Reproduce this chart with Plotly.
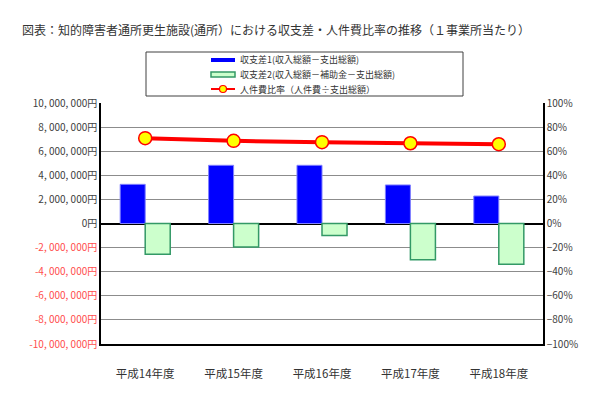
import plotly.graph_objects as go

# データ（1事業所当たり）
categories = ["平成14年度", "平成15年度", "平成16年度", "平成17年度", "平成18年度"]
balance1 = [3250000, 4830000, 4830000, 3200000, 2280000]       # 収支差1
balance2 = [-2560000, -1950000, -1000000, -3000000, -3380000]  # 収支差2
labor_ratio = [0.708, 0.686, 0.675, 0.666, 0.658]              # 人件費比率

legend_names = [
    "収支差1(収入総額－支出総額)",
    "収支差2(収入総額－補助金－支出総額)",
    "人件費比率（人件費÷支出総額）",
]

left_ticks = list(range(-10000000, 10000001, 2000000))
right_ticks = [v / 10 for v in range(-10, 11, 2)]

FONT = "Noto Sans CJK JP"

# ページの body 余白(8px)を考慮したプロット領域（画面上のピクセル）
PX0, PX1, PY0, PY1 = 101, 543, 103, 344


def px_x(x):
    return (x - PX0) / (PX1 - PX0)


def px_y(y):
    return (PY1 - y) / (PY1 - PY0)


def yen_label(v):
    s = "{:,}".format(abs(v)).replace(",", ", ") + "円"
    if v < 0:
        return "<span style='color:#ff4d4d'>-" + s + "</span>"
    return s


fig = go.Figure()

fig.add_trace(go.Bar(
    x=categories, y=balance1, name=legend_names[0],
    marker=dict(color="#0000ff", line=dict(color="#8080ff", width=1)),
))
fig.add_trace(go.Bar(
    x=categories, y=balance2, name=legend_names[1],
    marker=dict(color="#ccffcc", line=dict(color="#339966", width=1.5)),
))
fig.add_trace(go.Scatter(
    x=categories, y=labor_ratio, yaxis="y2", mode="lines+markers",
    name=legend_names[2],
    line=dict(color="#ff0000", width=4),
    marker=dict(color="#ffff00", size=13, line=dict(color="#ff0000", width=1.5)),
))

# 凡例（手書き）
rows_y = [60, 74.5, 89]
shapes = [
    dict(type="rect", x0=px_x(146), x1=px_x(463), y0=px_y(96), y1=px_y(52),
         line=dict(color="#404040", width=1)),
    dict(type="rect", x0=px_x(211), x1=px_x(235), y0=px_y(rows_y[0] + 2), y1=px_y(rows_y[0] - 2),
         line=dict(width=0), fillcolor="#0000ff"),
    dict(type="rect", x0=px_x(211), x1=px_x(235), y0=px_y(rows_y[1] + 2.5), y1=px_y(rows_y[1] - 2.5),
         line=dict(color="#339966", width=1.5), fillcolor="#ccffcc"),
    dict(type="line", x0=px_x(211), x1=px_x(235), y0=px_y(rows_y[2]), y1=px_y(rows_y[2]),
         line=dict(color="#ff0000", width=2)),
    dict(type="circle", x0=px_x(219.5), x1=px_x(226.5), y0=px_y(rows_y[2] + 3.5), y1=px_y(rows_y[2] - 3.5),
         line=dict(color="#ff0000", width=1.2), fillcolor="#ffff00"),
]
for s in shapes:
    s.update(xref="paper", yref="paper", layer="above")

annotations = [
    dict(x=px_x(238), y=px_y(ry), xref="paper", yref="paper", text=name,
         showarrow=False, xanchor="left", yanchor="middle",
         font=dict(family=FONT, size=9, color="#333333"))
    for name, ry in zip(legend_names, rows_y)
]

fig.update_layout(
    width=603, height=418,
    margin=dict(l=PX0 - 8, r=603 - PX1 + 8, t=PY0 - 8, b=418 - PY1 + 8),
    paper_bgcolor="white", plot_bgcolor="white",
    font=dict(family=FONT, size=10, color="#404040"),
    barmode="group", bargap=0.434, bargroupgap=0,
    showlegend=False,
    xaxis=dict(
        showline=True, linecolor="black", linewidth=1.5,
        ticks="", ticklabelstandoff=18,
        tickfont=dict(size=11.5, color="#333333"),
    ),
    yaxis=dict(
        range=[-10000000, 10000000],
        tickvals=left_ticks, ticktext=[yen_label(v) for v in left_ticks],
        showline=True, linecolor="black", linewidth=1.5,
        showgrid=True, gridcolor="#8c8c8c", gridwidth=1,
        zeroline=True, zerolinecolor="black", zerolinewidth=1.5,
        tickfont=dict(size=10, color="#404040"), ticks="",
    ),
    yaxis2=dict(
        range=[-1, 1], overlaying="y", side="right",
        tickvals=right_ticks, tickformat=".0%",
        showline=True, linecolor="black", linewidth=1.5,
        showgrid=False, zeroline=False,
        tickfont=dict(size=10, color="#404040"), ticks="",
    ),
    title=dict(
        text="図表：知的障害者通所更生施設(通所）における収支差・人件費比率の推移（１事業所当たり）",
        x=(22 - 8) / 603, xanchor="left", y=1 - (31 - 8) / 418, yanchor="middle",
        font=dict(family=FONT, size=12, color="#333333"),
    ),
    shapes=shapes,
    annotations=annotations,
)

fig.write_html("out.html")
